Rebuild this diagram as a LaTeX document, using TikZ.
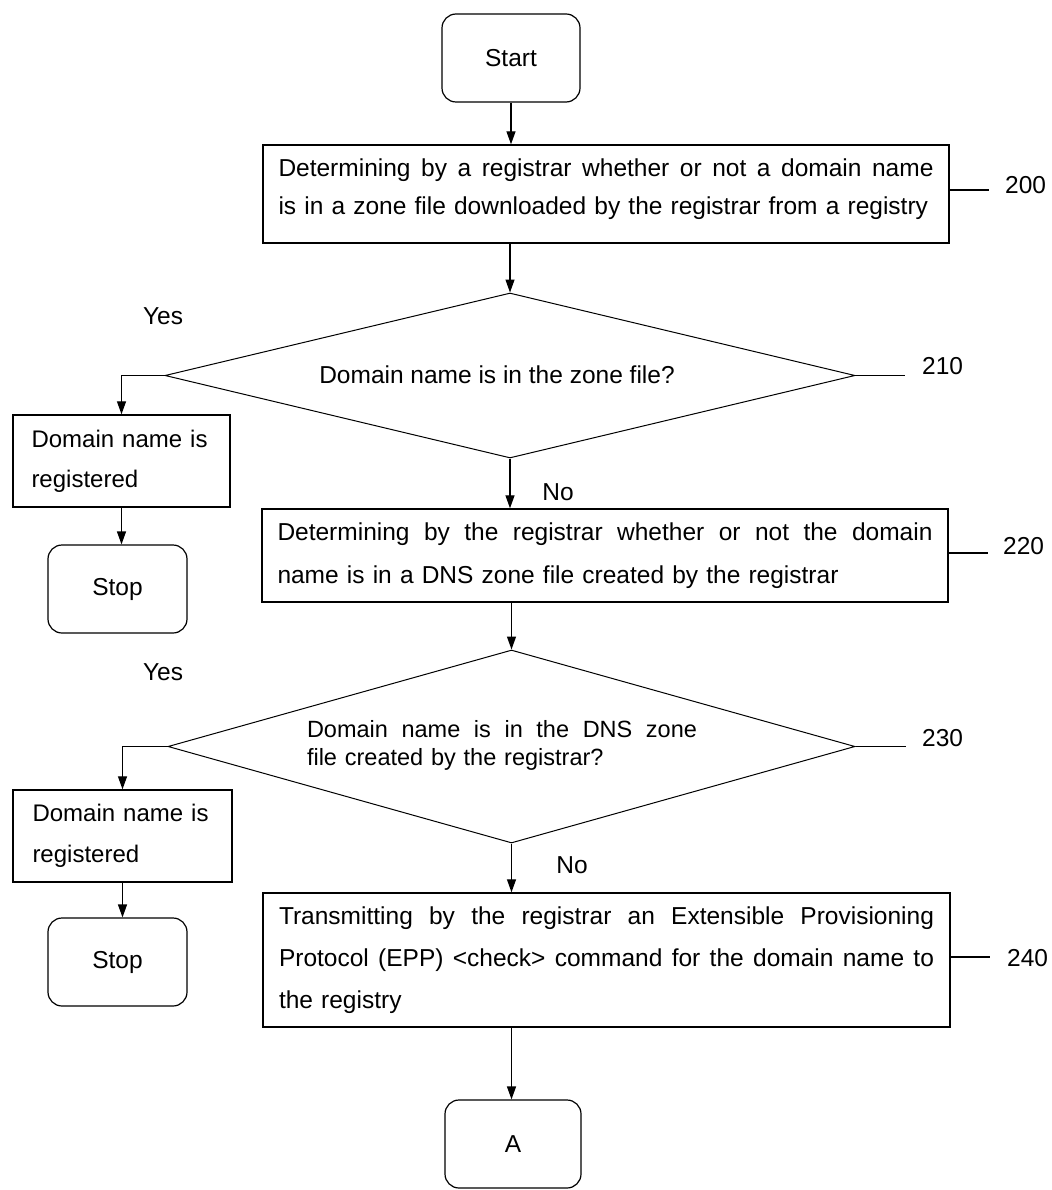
\documentclass[tikz,border=0pt]{standalone}
\usepackage{fontspec}
\setmainfont{Liberation Sans}
\usetikzlibrary{shapes.geometric,arrows.meta}
\newcommand{\jline}[2]{\makebox[#1][s]{\spaceskip=0.28em plus 1fil\relax #2}}
\newcommand{\upby}[2]{\raisebox{#1}[\height][\depth]{#2}}
\begin{document}
\begin{tikzpicture}[x=1pt,y=-1pt,
  box/.style={draw,line width=1.4pt,rectangle,inner sep=0pt,align=left},
  term/.style={draw,line width=1.2pt,rounded corners=14pt,minimum width=138pt,minimum height=88pt,inner sep=0pt,font=\fontsize{24.5}{30}\selectfont},
  dec/.style={draw,line width=1pt,diamond,inner sep=0pt},
  arr/.style={line width=1.3pt,-{Triangle[length=13pt,width=9pt]}},
  lead/.style={line width=1.2pt},
  lbl/.style={font=\fontsize{24.5}{30}\selectfont,inner sep=0pt},
]
\useasboundingbox (0,0) rectangle (1051,1190);

% main column
\node[term] (start) at (511,58) {Start};
\node[box,minimum width=686pt,minimum height=98pt,text width=655pt,font=\fontsize{24.5}{38}\selectfont] (b200) at (606,194)
  {\upby{5pt}{\jline{655pt}{Determining by a registrar whether or not a domain name}}\\\upby{5pt}{is in a zone file downloaded by the registrar from a registry}};
\node[dec,minimum width=690pt,minimum height=165pt] (d210) at (510,375.5) {};
\node[lbl] (t210) at (497,375) {Domain name is in the zone file?};
\node[box,minimum width=686pt,minimum height=93pt,text width=655pt,font=\fontsize{24.5}{43}\selectfont] (b220) at (605,555.5)
  {\jline{655pt}{Determining by the registrar whether or not the domain}\\name is in a DNS zone file created by the registrar};
\node[dec,minimum width=687pt,minimum height=193pt] (d230) at (511.5,746.5) {};
\node[lbl,text width=390pt,align=left,font=\fontsize{23.5}{28}\selectfont] (t230) at (502,745)
  {\jline{390pt}{Domain name is in the DNS zone}\\file created by the registrar?};
\node[box,minimum width=687pt,minimum height=134pt,text width=655pt,font=\fontsize{24.5}{42}\selectfont] (b240) at (606.5,960)
  {\jline{655pt}{Transmitting by the registrar an Extensible Provisioning}\\\jline{655pt}{Protocol (EPP) <check> command for the domain name to}\\the registry};
\node[term,minimum width=136pt] (a) at (513,1144) {A};

% left column
\node[box,minimum width=217pt,minimum height=92pt,text width=180pt,font=\fontsize{24}{40}\selectfont] (r1) at (121.5,461) {Domain name is\\registered};
\node[term,minimum width=139pt] (stop1) at (117.5,589) {Stop};
\node[box,minimum width=219pt,minimum height=92pt,text width=180pt,font=\fontsize{24}{41}\selectfont] (r2) at (122.5,836) {Domain name is\\registered};
\node[term,minimum width=139pt] (stop2) at (117.5,962) {Stop};

% branch labels
\node[lbl] (yes1) at (163,316) {Yes};
\node[lbl] (no1) at (558,492) {No};
\node[lbl] (yes2) at (163,672) {Yes};
\node[lbl] (no2) at (572,865) {No};

% reference numerals
\node[lbl,anchor=west] (n200) at (1005,185) {200};
\node[lbl,anchor=west] (n210) at (922,366) {210};
\node[lbl,anchor=west] (n220) at (1003,546) {220};
\node[lbl,anchor=west] (n230) at (922,738) {230};
\node[lbl,anchor=west] (n240) at (1007,958) {240};
\coordinate (e200) at (989,190);
\coordinate (e210) at (905,375.5);
\coordinate (e220) at (988,553);
\coordinate (e230) at (906,746.5);
\coordinate (e240) at (990,957);
\coordinate (atop) at (a.north -| d230.south);

% connectors
\draw[arr] (start.south) -- (start.south |- b200.north);
\draw[arr] (d210.north |- b200.south) -- (d210.north);
\draw[arr] (d210.south) -- (d210.south |- b220.north);
\draw[arr] (d230.north |- b220.south) -- (d230.north);
\draw[arr] (d230.south) -- (d230.south |- b240.north);
\draw[arr] (b240.south -| atop) -- (atop);
\draw[arr] (d210.west) -| (r1.north);
\draw[arr] (r1.south) -- (r1.south |- stop1.north);
\draw[arr] (d230.west) -| (r2.north);
\draw[arr] (r2.south) -- (r2.south |- stop2.north);

% leaders
\draw[lead] (b200.east |- e200) -- (e200);
\draw[lead] (d210.east) -- (e210);
\draw[lead] (b220.east |- e220) -- (e220);
\draw[lead] (d230.east) -- (e230);
\draw[lead] (b240.east |- e240) -- (e240);
\end{tikzpicture}
\end{document}
